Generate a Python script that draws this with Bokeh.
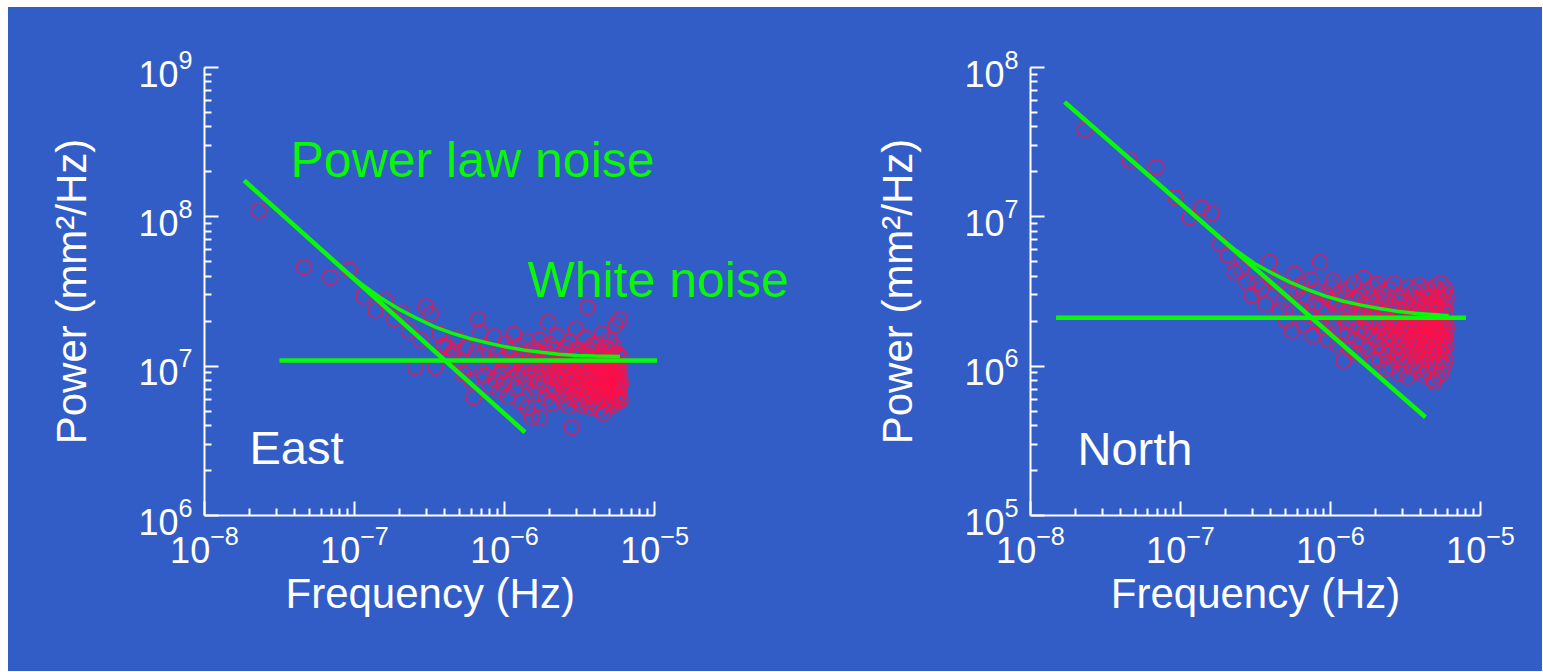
from bokeh.plotting import figure
from bokeh.models import Range1d, FixedTicker, Label, LogTickFormatter, Title, Spacer
from bokeh.layouts import row, column
from bokeh.embed import file_html
from bokeh.resources import INLINE

# ---------------- data ----------------
freq_step_hz = 2.3e-8          # periodogram frequency spacing (k * step)

# East component: power in units of 1e6 mm^2/Hz, harmonic k = 1..260
east_power_1e6 = [
    110, 46.0, 39.4, 44.2, 29.3, 23.6, 27.5, 20.7, 22.8, 17.3,
    9.84, 14.9, 25.1, 22.4, 9.84, 16.5, 13.7, 13.4, 11.8, 12.7,
    15.3, 10.9, 8.89, 13.4, 9.84, 8.02, 6.19, 12.3, 20.7, 16.9,
    11.8, 8.6, 13.2, 9.9, 7.4, 10.6, 15.8, 8.1, 12.4, 6.9,
    9.2, 11.1, 7.7, 14.3, 10.2, 6.3, 12.9, 9.6, 8.3, 16.4,
    10.8, 7.1, 9.0, 13.7, 11.5, 5.8, 8.8, 12.0, 10.3, 7.9,
    14.8, 5.3, 9.7, 11.9, 8.4, 4.6, 10.9, 13.1, 7.3, 9.4,
    12.6, 8.0, 6.6, 15.1, 4.5, 10.4, 9.1, 11.7, 7.6, 13.5,
    8.9, 6.1, 10.0, 12.2, 19.7, 7.0, 9.8, 14.0, 8.5, 5.6,
    11.3, 9.5, 7.2, 12.8, 10.7, 6.7, 16.0, 8.2, 9.3, 11.0,
    7.8, 10.5, 6.4, 9.0, 12.3, 8.1, 5.9, 11.2, 7.3, 9.7,
    13.4, 6.8, 8.6, 10.1, 7.5, 5.4, 9.3, 14.6, 8.0, 6.2,
    10.8, 3.9, 7.9, 12.7, 9.1, 6.6, 8.4, 11.6, 7.0, 17.8,
    8.8, 6.0, 9.9, 7.4, 13.0, 5.7, 10.3, 8.2, 6.9, 11.9,
    7.6, 9.4, 5.5, 12.1, 8.5, 6.5, 10.6, 7.2, 15.5, 8.9,
    6.3, 9.6, 11.4, 7.7, 24.8, 5.8, 8.3, 10.0, 6.7, 12.9,
    7.1, 9.2, 5.3, 8.7, 11.0, 6.1, 13.8, 7.9, 9.8, 6.4,
    10.9, 8.0, 5.6, 12.4, 7.3, 9.0, 6.8, 14.2, 8.6, 7.5,
    5.9, 10.2, 8.1, 6.6, 11.7, 7.0, 9.5, 5.2, 12.6, 8.4,
    6.9, 9.9, 7.7, 16.6, 8.8, 6.2, 10.7, 7.4, 4.8, 9.1,
    11.3, 6.5, 8.3, 13.3, 7.2, 9.7, 5.7, 10.4, 8.0, 6.8,
    12.0, 7.6, 9.3, 6.0, 11.1, 8.5, 5.4, 14.9, 7.9, 9.6,
    6.4, 10.8, 8.2, 7.0, 12.8, 5.8, 9.0, 7.5, 11.5, 6.7,
    8.7, 10.1, 5.5, 13.6, 7.3, 9.4, 6.3, 8.9, 18.9, 7.1,
    10.6, 6.1, 8.4, 12.2, 7.8, 9.8, 5.9, 11.8, 7.4, 8.6,
    6.6, 10.3, 9.2, 7.2, 20.7, 8.1, 6.0, 5.9, 11.4, 7.7,
]

# North component: power in units of 1e6 mm^2/Hz, harmonic k = 1..260
north_power_1e6 = [
    38.3, 23.8, 21.5, 13.5, 9.94, 11.5, 10.6, 6.6, 5.5, 4.26,
    4.49, 3.65, 2.97, 3.6, 3.3, 2.6, 4.97, 3.9, 3.6, 2.36,
    2.75, 2.02, 3.1, 1.73, 4.15, 3.21,
    2.4, 3.5, 1.9, 2.9, 2.2, 3.8, 1.6, 2.6, 3.2, 2.0,
    4.97, 2.5, 1.8, 3.0, 2.3, 1.5, 2.8,
    3.4, 3.75, 1.9, 2.6, 1.4, 2.2, 3.1, 1.7, 2.5, 1.09,
    2.9, 2.0, 1.6, 3.3, 2.3, 1.3, 2.7,
    1.9, 3.6, 2.1, 1.5, 2.8, 1.2, 2.4, 3.0, 1.8, 2.2,
    1.4, 3.9, 2.6, 1.7, 2.0, 3.2, 1.3, 2.5, 1.9, 2.9,
    1.6, 2.3, 3.4, 1.1, 2.1, 2.7, 1.5, 1.9, 3.57, 2.4,
    1.4, 2.0, 1.1, 2.6, 1.7, 3.1, 1.3, 1.9, 2.3, 1.5,
    2.8, 0.96, 1.8, 1.2, 2.2, 1.6, 3.3, 1.4, 2.0, 1.0,
    1.7, 2.5, 1.3, 1.9, 3.6, 1.5, 1.1, 2.1, 1.8, 2.9,
    1.2, 1.6, 2.4, 0.9, 1.9, 1.4, 2.7, 1.7, 1.1, 2.2,
    3.0, 1.5, 1.8, 1.0, 2.3, 1.3, 1.9, 2.6, 1.2, 1.6,
    2.0, 0.85, 1.7, 3.4, 1.4, 2.2, 1.1, 1.8, 2.5, 1.5,
    1.3, 2.9, 1.9, 1.0, 1.6, 2.1, 1.4, 3.2, 1.7, 1.2,
    2.4, 1.5, 0.95, 1.8, 2.7, 1.3, 2.0, 1.6, 3.5, 1.1,
    1.9, 1.4, 2.3, 1.0, 1.7, 2.8, 1.2, 1.5, 2.1, 0.88,
    1.6, 3.1, 1.3, 1.8, 2.4, 1.1, 1.9, 1.5, 2.6, 1.2,
    2.0, 1.4, 3.3, 0.92, 1.7, 2.2, 1.3, 1.8, 2.9, 1.5,
    1.1, 2.5, 1.6, 1.9, 3.0, 1.2, 2.1, 1.4, 0.82, 1.8,
    2.7, 1.3, 0.78, 1.7, 2.3, 1.5, 3.4, 1.0, 1.9, 2.0,
    1.2, 2.6, 1.6, 1.4, 3.2, 0.86, 1.8, 2.2, 1.3, 2.9,
    1.5, 1.1, 2.4, 1.7, 3.6, 1.3, 1.9, 0.9, 2.1, 1.6,
    2.8, 1.2, 1.8, 1.4, 2.5, 3.1, 1.0, 1.7, 2.0, 1.5,
    1.3, 2.3, 3.3, 1.6, 1.1, 2.6, 1.9, 1.4, 2.9, 1.8,
]

# fitted model lines
east_pl_f = [1.84e-8, 1.37e-6]
east_pl_p = [1.75e8, 3.61e6]
east_wn_f = [3.16e-8, 1.04e-5]
east_wn_p = [1.09e7, 1.09e7]
east_fit_f = [1.84e-8, 8.62e-8, 1.133e-7, 1.49e-7, 1.961e-7, 2.58e-7, 3.392e-7,
              4.46e-7, 5.868e-7, 7.71e-7, 1.015e-6, 1.34e-6, 1.757e-6, 2.31e-6,
              3.04e-6, 4.0e-6, 5.88e-6]
east_fit_p = [1.75e8, 4.37e7, 3.505e7, 2.87e7, 2.42e7, 2.10e7, 1.843e7,
              1.663e7, 1.532e7, 1.433e7, 1.347e7, 1.285e7, 1.241e7, 1.203e7,
              1.179e7, 1.17e7, 1.16e7]

north_pl_f = [1.69e-8, 4.30e-6]
north_pl_p = [5.86e7, 4.55e5]
north_wn_f = [1.48e-8, 8.0e-6]
north_wn_p = [2.11e6, 2.11e6]
north_fit_f = [1.69e-8, 1.36e-7, 1.79e-7, 2.35e-7, 3.093e-7, 4.07e-7, 5.353e-7,
               7.04e-7, 9.26e-7, 1.22e-6, 1.602e-6, 2.11e-6, 2.773e-6, 3.65e-6,
               6.14e-6]
north_fit_p = [5.86e7, 9.45e6, 7.41e6, 5.95e6, 4.895e6, 4.20e6, 3.651e6,
               3.25e6, 2.942e6, 2.72e6, 2.562e6, 2.43e6, 2.335e6, 2.26e6,
               2.18e6]

x_decades = [1e-8, 1e-7, 1e-6, 1e-5]
east_y_decades = [1e6, 1e7, 1e8, 1e9]
north_y_decades = [1e5, 1e6, 1e7, 1e8]

x_title = "Frequency (Hz)"
y_title = "Power (mm\u00b2/Hz)"

# ---------------- style ----------------
BG = "#335DC6"
GREEN = "#0AF70A"
RED = "#FF0F48"
FONT = "Liberation Sans"
FIG_H = 664


def minor_of(decades):
    return [m * d for d in decades[:-1] for m in range(2, 10)]


def make_panel(width, mb_left, mb_right, x_end, y_decades, power_1e6,
               pl_f, pl_p, wn_f, wn_p, fit_f, fit_p, title_align, title_offset):
    p = figure(width=width, height=FIG_H,
               x_axis_type="log", y_axis_type="log",
               x_range=Range1d(x_decades[0], x_end),
               y_range=Range1d(y_decades[0], y_decades[-1]),
               output_backend="svg", toolbar_location=None,
               background_fill_color=None, border_fill_color=BG,
               outline_line_color=None,
               min_border_left=mb_left, min_border_right=mb_right,
               min_border_top=60, min_border_bottom=FIG_H - 60 - 448)
    p.grid.visible = False

    p.xaxis.ticker = FixedTicker(ticks=x_decades, minor_ticks=minor_of(x_decades))
    p.yaxis.ticker = FixedTicker(ticks=y_decades, minor_ticks=minor_of(y_decades))
    p.xaxis.formatter = LogTickFormatter()
    p.yaxis.formatter = LogTickFormatter()
    p.xaxis.bounds = (x_decades[0], x_decades[-1])
    p.yaxis.axis_label = y_title

    for ax in (p.xaxis[0], p.yaxis[0]):
        ax.axis_line_color = "white"
        ax.axis_line_width = 2
        ax.major_tick_line_color = "white"
        ax.major_tick_line_width = 2
        ax.major_tick_in = 14
        ax.major_tick_out = 0
        ax.minor_tick_line_color = "white"
        ax.minor_tick_line_width = 2
        ax.minor_tick_in = 7
        ax.minor_tick_out = 0
        ax.major_label_text_color = "white"
        ax.major_label_text_font = FONT
        ax.major_label_text_font_size = "36px"
        ax.major_label_standoff = 12
        ax.axis_label_text_color = "white"
        ax.axis_label_text_font = FONT
        ax.axis_label_text_font_size = "42px"
        ax.axis_label_text_font_style = "normal"
    p.xaxis.major_label_standoff = 9
    p.yaxis.axis_label_standoff = 40

    p.add_layout(Title(text=x_title, align=title_align, offset=title_offset,
                       text_font=FONT, text_font_size="42px", text_color="white",
                       text_font_style="normal", standoff=5), "below")

    freqs = [freq_step_hz * (i + 1) for i in range(len(power_1e6))]
    powers = [v * 1e6 for v in power_1e6]
    p.scatter(freqs, powers, marker="circle", size=15, fill_color=None,
              line_color=RED, line_alpha=0.75, line_width=1.5)

    p.line(wn_f, wn_p, line_color=GREEN, line_width=4.5)
    p.line(pl_f, pl_p, line_color=GREEN, line_width=4.5)
    p.line(fit_f, fit_p, line_color=GREEN, line_width=3.5)
    return p


# East frame is widened to the right (axis kept to 1e-8..1e-5) so "White noise" fits
east = make_panel(822, 196, 10, 1.278e-4, east_y_decades, east_power_1e6,
                  east_pl_f, east_pl_p, east_wn_f, east_wn_p, east_fit_f, east_fit_p,
                  "left", 81)
north = make_panel(712, 200, 62, x_decades[-1], north_y_decades, north_power_1e6,
                   north_pl_f, north_pl_p, north_wn_f, north_wn_p, north_fit_f, north_fit_p,
                   "center", 0)

east.add_layout(Label(x=3.744e-8, y=2.384e8, text="Power law noise", text_color=GREEN,
                      text_font=FONT, text_font_size="50px", text_baseline="middle"))
east.add_layout(Label(x=1.423e-6, y=3.805e7, text="White noise", text_color=GREEN,
                      text_font=FONT, text_font_size="50px", text_baseline="middle"))
east.add_layout(Label(x=1.995e-8, y=2.853e6, text="East", text_color="white",
                      text_font=FONT, text_font_size="47px", text_baseline="middle"))
north.add_layout(Label(x=2.057e-8, y=2.81e5, text="North", text_color="white",
                       text_font=FONT, text_font_size="47px", text_baseline="middle"))

panels = row(east, north, styles={"background-color": BG})
layout = column(Spacer(height=7), row(Spacer(width=8), panels))
open("out.html", "w").write(file_html(layout, INLINE))
